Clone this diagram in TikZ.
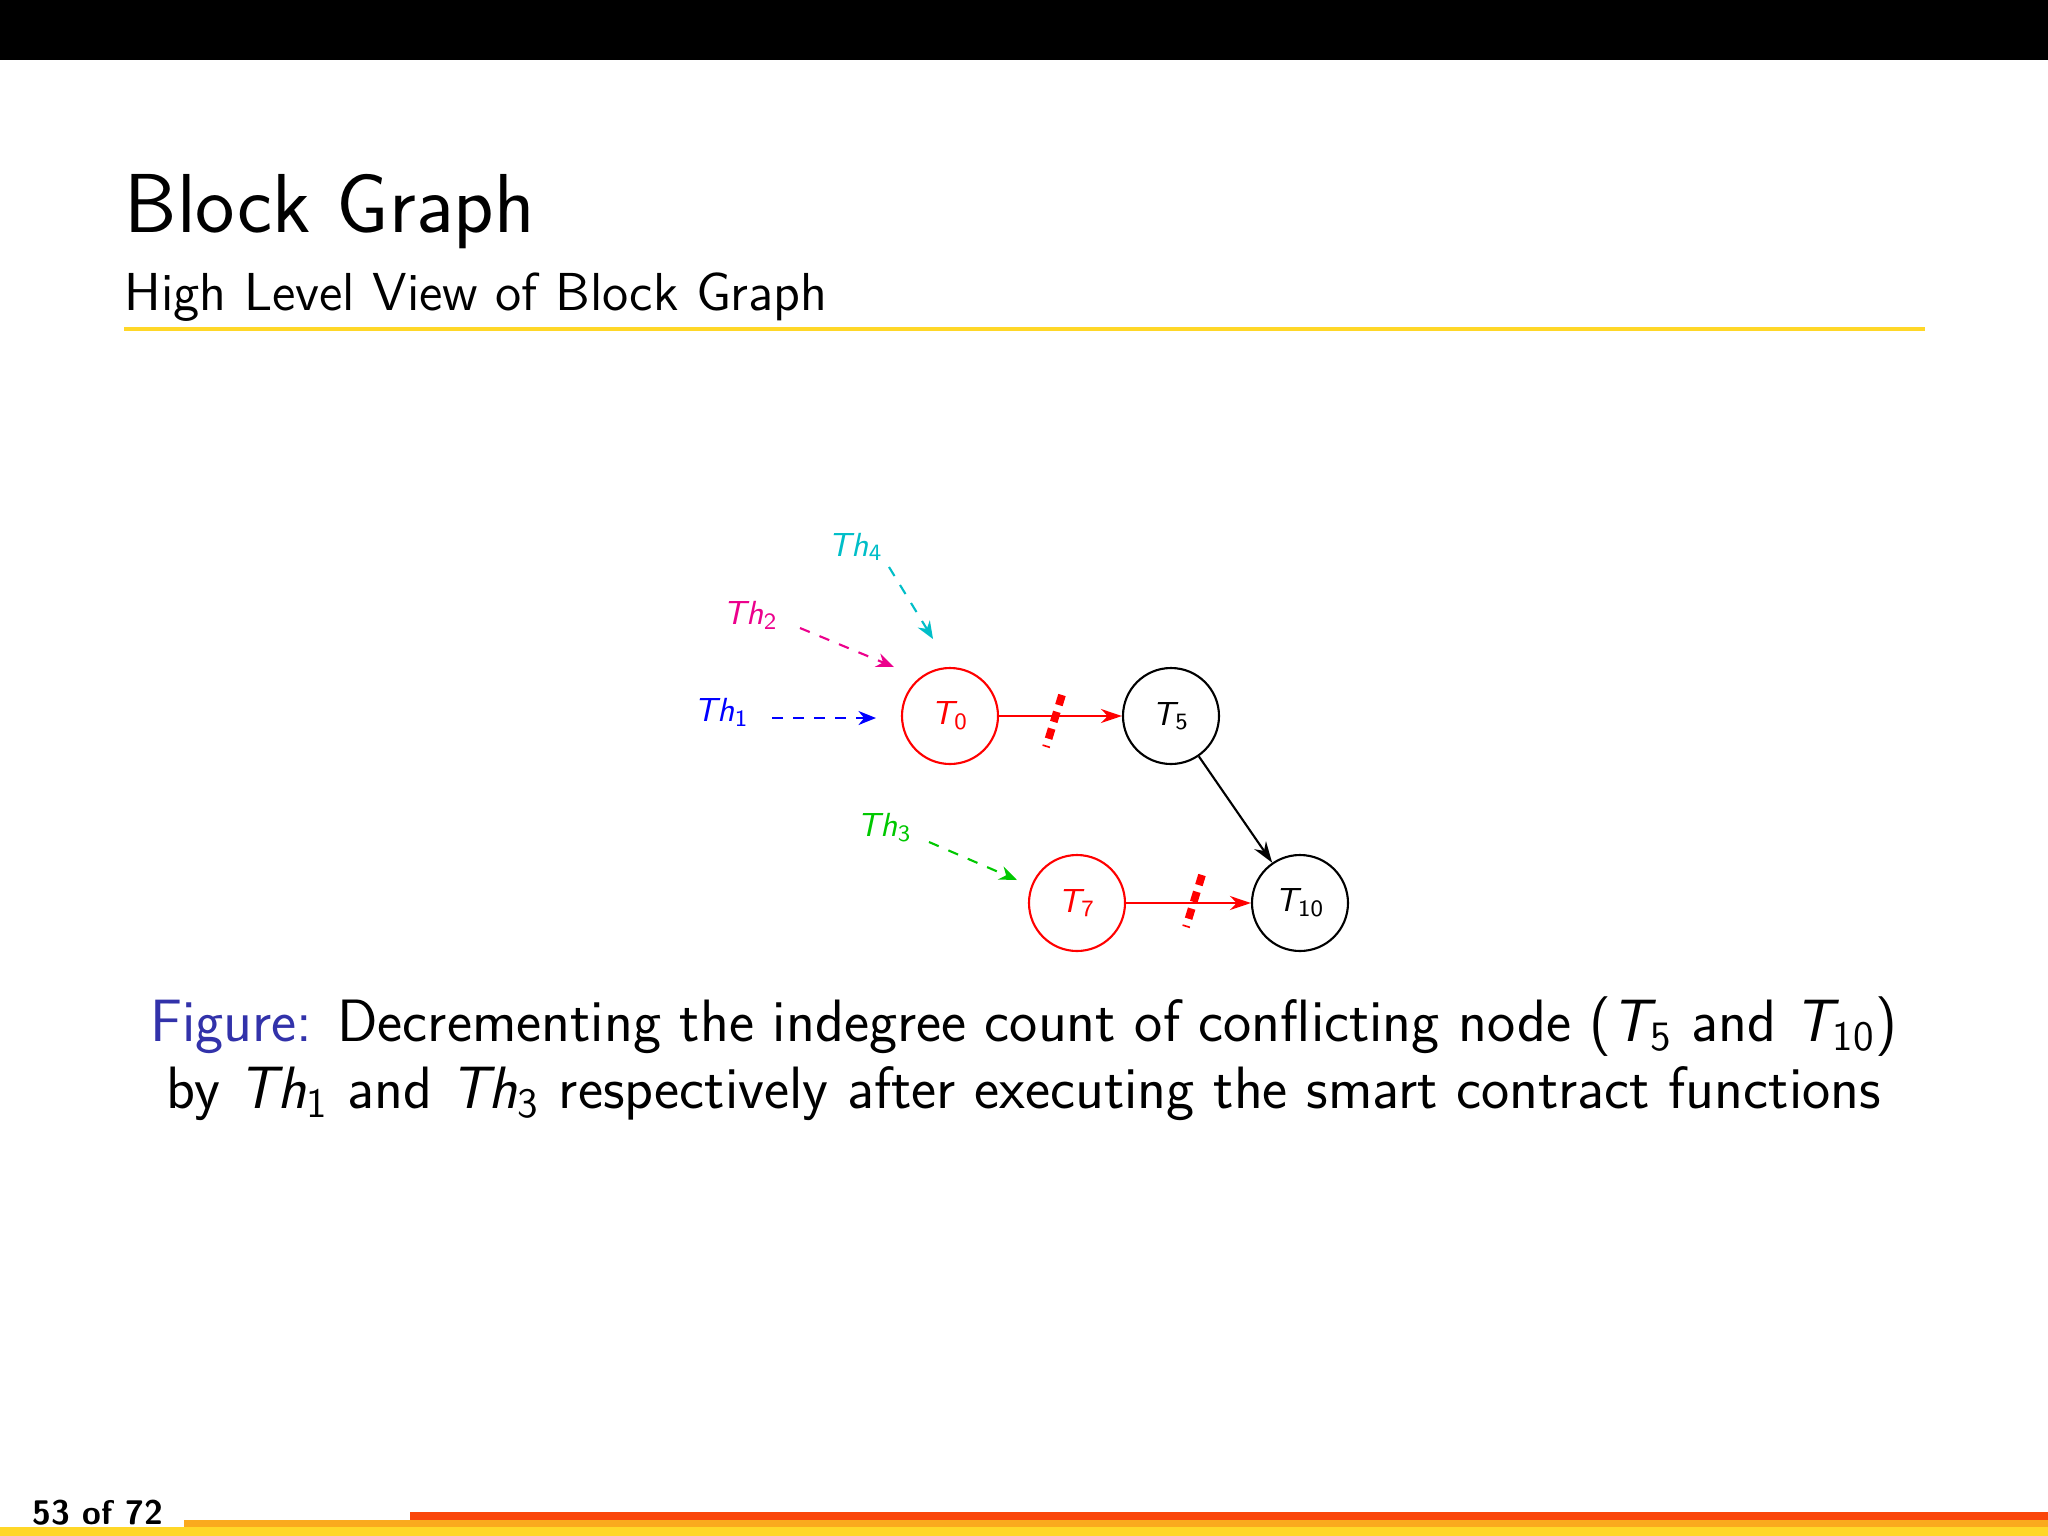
\documentclass[tikz,border=0pt]{standalone}
\usepackage{fontspec}
\usetikzlibrary{arrows.meta}
\definecolor{ttl}{RGB}{255,215,40}
\definecolor{orbar}{RGB}{250,170,30}
\definecolor{rdbar}{RGB}{250,70,10}
\definecolor{figblue}{RGB}{50,50,170}
\definecolor{thcyan}{RGB}{0,190,200}
\definecolor{thgreen}{RGB}{0,200,0}
\newcommand{\mysub}[2]{{\itshape #1}\textsubscript{#2}}
\tikzset{
 tnode/.style={circle,draw,minimum size=96*0.01cm,inner sep=0pt,line width=0.6pt,font=\sffamily\fontsize{9.5}{11}\selectfont},
 thlab/.style={font=\sffamily\fontsize{9.5}{11}\selectfont,inner sep=0pt},
 tharr/.style={dashed,line width=0.6pt,-{Stealth[length=5pt,width=4pt]}},
 sarr/.style={line width=0.6pt,-{Stealth[length=6pt,width=4pt]}},
 slash/.style={red,line width=2.2pt,dash pattern=on 3pt off 2pt}
}
\begin{document}
\begin{tikzpicture}[x=0.01cm,y=-0.01cm]
\fill[white] (0,0) rectangle (2048,1536);
\useasboundingbox (0,0) rectangle (2048,1536);
\fill[black] (0,0) rectangle (2048,60);
\node[anchor=base west,inner sep=0pt,font=\sffamily\fontsize{23.8}{28}\selectfont] (title) at (124,232) {Block Graph};
\node[anchor=base west,inner sep=0pt,font=\sffamily\fontsize{15.2}{17}\selectfont] (sub) at (124,310) {High Level View of Block Graph};
\fill[ttl] (124,327) rectangle (1925,331);
% graph
\node[tnode,red] (t0) at (950,716) {\mysub{T}{0}};
\node[tnode] (t5) at (1171,716) {\mysub{T}{5}};
\node[tnode,red] (t7) at (1077,903) {\mysub{T}{7}};
\node[tnode] (t10) at (1300,903) {\mysub{T}{10}};
\node[thlab,blue] (th1) at (722,712) {\mysub{Th}{1}};
\node[thlab,magenta] (th2) at (751,615) {\mysub{Th}{2}};
\node[thlab,thgreen] (th3) at (885,828) {\mysub{Th}{3}};
\node[thlab,thcyan] (th4) at (856,547) {\mysub{Th}{4}};
\coordinate (a1s) at (772,718); \coordinate (a1e) at (876,718);
\coordinate (a2s) at (800,628); \coordinate (a2e) at (894,667);
\coordinate (a4s) at (889,567); \coordinate (a4e) at (933,639);
\coordinate (a3s) at (929,842); \coordinate (a3e) at (1017,880);
\draw[tharr,blue] (a1s) -- (a1e);
\draw[tharr,magenta] (a2s) -- (a2e);
\draw[tharr,thcyan] (a4s) -- (a4e);
\draw[tharr,thgreen] (a3s) -- (a3e);
\draw[sarr,red] (t0.east) -- (t5.west);
\draw[sarr,red] (t7.east) -- (t10.west);
\draw[sarr] (t5) -- (t10);
\coordinate (s1a) at (1062,695); \coordinate (s1b) at (1046,747);
\coordinate (s2a) at (1202,875); \coordinate (s2b) at (1186,927);
\draw[slash] (s1a) -- (s1b);
\draw[slash] (s2a) -- (s2b);
% caption
\node[anchor=base,inner sep=0pt,font=\sffamily\fontsize{17}{20}\selectfont] (cap1) at (1024,1041) {{\color{figblue}Figure:} Decrementing the indegree count of conflicting node (\mysub{T}{5} and \mysub{T}{10})};
\node[anchor=base,inner sep=0pt,font=\sffamily\fontsize{17}{20}\selectfont] (cap2) at (1024,1108) {by \mysub{Th}{1} and \mysub{Th}{3} respectively after executing the smart contract functions};
% footer
\fill[ttl] (0,1527) rectangle (2048,1536);
\fill[orbar] (184,1520) rectangle (2048,1527);
\fill[rdbar] (410,1512) rectangle (2048,1520);
\node[anchor=base west,inner sep=0pt,font=\sffamily\bfseries\fontsize{9.7}{12}\selectfont] (pg) at (32,1524) {53 of 72};
\end{tikzpicture}
\end{document}
